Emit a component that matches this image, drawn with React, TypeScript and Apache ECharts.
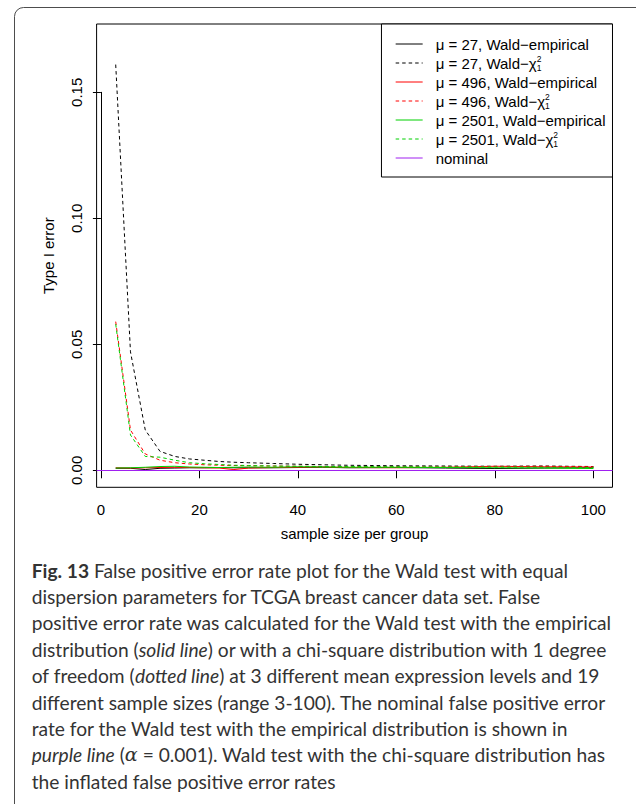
import React, { useEffect, useRef } from 'react';
import * as echarts from 'echarts';

// ---------- data ----------
const SAMPLE_SIZES = [3, 6, 9, 12, 15, 18, 21, 24, 27, 30, 35, 40, 45, 50, 60, 70, 80, 90, 100];

const MU27_EMP = [0.0008, 0.0008, 0.0003, 0.0008, 0.0009, 0.001, 0.001, 0.0011, 0.001, 0.001, 0.001, 0.0011, 0.0012, 0.001, 0.0011, 0.0009, 0.0007, 0.0009, 0.001];
const MU27_CHI = [0.161, 0.047, 0.016, 0.0075, 0.0055, 0.0045, 0.004, 0.0035, 0.0032, 0.003, 0.0027, 0.0024, 0.0022, 0.002, 0.0018, 0.0017, 0.0016, 0.0017, 0.0015];
const MU496_EMP = [0.001, 0.0009, 0.001, 0.0011, 0.0012, 0.0011, 0.001, 0.0009, 0.0003, 0.0009, 0.0011, 0.0012, 0.0013, 0.0011, 0.001, 0.0012, 0.0016, 0.0014, 0.0013];
const MU496_CHI = [0.059, 0.016, 0.0065, 0.004, 0.003, 0.0025, 0.0022, 0.002, 0.0019, 0.0018, 0.0017, 0.0016, 0.0015, 0.0014, 0.0014, 0.0013, 0.0015, 0.0016, 0.0013];
const MU2501_EMP = [0.0009, 0.001, 0.0012, 0.0015, 0.0016, 0.0013, 0.0012, 0.0011, 0.0012, 0.0013, 0.0012, 0.0014, 0.0013, 0.0012, 0.0012, 0.0011, 0.001, 0.0009, 0.0007];
const MU2501_CHI = [0.058, 0.014, 0.0055, 0.0052, 0.004, 0.003, 0.0026, 0.0023, 0.002, 0.0019, 0.0017, 0.0016, 0.0015, 0.0015, 0.0014, 0.0013, 0.0013, 0.0012, 0.0011];
const NOMINAL = 0.001;

const SERIES_NAMES = [
  'μ = 27, Wald−empirical',
  'μ = 27, Wald−χ²₁',
  'μ = 496, Wald−empirical',
  'μ = 496, Wald−χ²₁',
  'μ = 2501, Wald−empirical',
  'μ = 2501, Wald−χ²₁',
  'nominal',
];

const X_TITLE = 'sample size per group';
const Y_TITLE = 'Type I error';

const CAPTION_LINES = [
  '{b|Fig. 13} False positive error rate plot for the Wald test with equal',
  'dispersion parameters for TCGA breast cancer data set. False',
  'positive error rate was calculated for the Wald test with the empirical',
  'distribution ({i|solid line}) or with a chi-square distribution with 1 degree',
  'of freedom ({i|dotted line}) at 3 different mean expression levels and 19',
  'different sample sizes (range 3-100). The nominal false positive error',
  'rate for the Wald test with the empirical distribution is shown in',
  '{i|purple line} ({m|α} = 0.001). Wald test with the chi-square distribution has',
  'the inflated false positive error rates',
];

// ---------- styles ----------
const FONT = "'Liberation Sans', Arial, Helvetica, sans-serif";
const CAP_FONT = "Lato, 'Open Sans', sans-serif";
const CAP_FS = 19.2;
const CAP_COLOR = '#333333';
const FS = 15;
const DASH = [3.5, 3];
const BLACK = '#000000';
const RED = '#ff0000';
const GREEN = '#00d000';
const PURPLE = '#a020f0';

const zip = (ys: number[]) => SAMPLE_SIZES.map((x, i) => [x, ys[i]]);

function buildOption() {
  const lineSeries = (name: string, ys: number[], color: string, dashed: boolean) => ({
    name,
    type: 'line',
    xAxisIndex: 0,
    yAxisIndex: 0,
    data: zip(ys),
    symbol: 'none',
    showSymbol: false,
    color,
    z: 3,
    lineStyle: { color, width: 1, type: dashed ? DASH : 'solid' },
  });

  return {
    animation: false,
    backgroundColor: '#ffffff',
    grid: [
      { left: 96.6, top: 24, width: 515.9, height: 463.3, show: true, borderColor: '#000', borderWidth: 1, backgroundColor: 'transparent' },
      { left: 100.9, top: 92.3, width: 492.4, height: 378 },
    ],
    xAxis: [
      {
        gridIndex: 0, type: 'value', min: -0.88, max: 103.88,
        axisLine: { show: false }, axisTick: { show: false }, axisLabel: { show: false }, splitLine: { show: false },
        name: X_TITLE, nameLocation: 'middle', nameGap: 39,
        nameTextStyle: { fontFamily: FONT, fontSize: FS, color: '#000' },
      },
      {
        gridIndex: 1, type: 'value', min: 0, max: 100, interval: 20, position: 'bottom', offset: 17,
        axisLine: { show: true, lineStyle: { color: '#000', width: 1 } },
        axisTick: { show: true, length: 8, inside: false, lineStyle: { color: '#000', width: 1 } },
        axisLabel: { show: true, fontFamily: FONT, fontSize: FS, color: '#000', margin: 15 },
        splitLine: { show: false },
      },
    ],
    yAxis: [
      {
        gridIndex: 0, type: 'value', min: -0.006746, max: 0.1771,
        axisLine: { show: false }, axisTick: { show: false }, axisLabel: { show: false }, splitLine: { show: false },
        name: Y_TITLE, nameLocation: 'middle', nameGap: 41, nameRotate: 90,
        nameTextStyle: { fontFamily: FONT, fontSize: FS, color: '#000' },
      },
      {
        gridIndex: 1, type: 'value', min: 0, max: 0.15, interval: 0.05, position: 'left', offset: 4.3,
        axisLine: { show: true, lineStyle: { color: '#000', width: 1 } },
        axisTick: { show: true, length: 8, inside: false, lineStyle: { color: '#000', width: 1 } },
        axisLabel: { show: true, rotate: 90, fontFamily: FONT, fontSize: FS, color: '#000', margin: 13, formatter: (v: number) => v.toFixed(2) },
        splitLine: { show: false },
      },
    ],
    legend: {
      data: SERIES_NAMES,
      orient: 'vertical',
      right: 23.5,
      top: 24,
      padding: [11, 7, 10, 13.7],
      itemGap: 1,
      itemWidth: 27,
      itemHeight: 18,
      borderColor: '#000',
      borderWidth: 1,
      borderRadius: 0,
      backgroundColor: '#fff',
      selectedMode: false,
      itemStyle: { opacity: 0 },
      lineStyle: { width: 1 },
      textStyle: {
        fontFamily: FONT,
        fontSize: FS,
        color: '#000',
        lineHeight: 18,
        rich: {
          gap: { width: 8, fontSize: FS, fontFamily: FONT, lineHeight: 18 },
          sup: { fontSize: 8.5, fontFamily: FONT, color: '#000', lineHeight: 8.5, verticalAlign: 'top', width: 0.001 },
          sub: { fontSize: 8.5, fontFamily: FONT, color: '#000', lineHeight: 8.5, verticalAlign: 'bottom' },
        },
      },
      formatter: (name: string) => '{gap| }' + name.replace('χ²₁', 'χ{sup|2}{sub|1}'),
    },
    series: [
      {
        name: 'nominal',
        type: 'line',
        xAxisIndex: 0,
        yAxisIndex: 0,
        data: [],
        symbol: 'none',
        color: PURPLE,
        z: 1,
        lineStyle: { color: PURPLE, width: 1 },
        markLine: {
          silent: true,
          symbol: 'none',
          label: { show: false },
          lineStyle: { color: PURPLE, width: 1, type: 'solid' },
          data: [{ yAxis: NOMINAL }],
        },
      },
      lineSeries(SERIES_NAMES[0], MU27_EMP, BLACK, false),
      lineSeries(SERIES_NAMES[1], MU27_CHI, BLACK, true),
      lineSeries(SERIES_NAMES[2], MU496_EMP, RED, false),
      lineSeries(SERIES_NAMES[3], MU496_CHI, RED, true),
      lineSeries(SERIES_NAMES[4], MU2501_EMP, GREEN, false),
      lineSeries(SERIES_NAMES[5], MU2501_CHI, GREEN, true),
    ],
    graphic: [
      {
        type: 'rect',
        silent: true,
        shape: { x: 14.5, y: 7.5, width: 700, height: 900, r: 9 },
        style: { fill: 'none', stroke: '#4d4d4d', lineWidth: 1 },
      },
      ...CAPTION_LINES.map((t, i) => ({
        type: 'text',
        silent: true,
        x: 31.7,
        y: 570 + i * 26.4,
        style: {
          text: t,
          fontFamily: CAP_FONT,
          fontSize: CAP_FS,
          fill: CAP_COLOR,
          verticalAlign: 'middle',
          rich: {
            b: { fontFamily: CAP_FONT, fontSize: CAP_FS, fontWeight: 'bold', fill: CAP_COLOR },
            i: { fontFamily: CAP_FONT, fontSize: CAP_FS, fontStyle: 'italic', fill: CAP_COLOR },
            m: { fontFamily: "'DejaVu Serif', serif", fontSize: CAP_FS, fontStyle: 'italic', fill: CAP_COLOR },
          },
        },
      })),
    ],
  };
}

export default function App() {
  const ref = useRef<HTMLDivElement>(null);
  useEffect(() => {
    if (!ref.current) return;
    const chart = echarts.init(ref.current, null, { renderer: 'svg' });
    chart.setOption(buildOption() as any);
    return () => chart.dispose();
  }, []);
  return (
    <div
      ref={ref}
      style={{ position: 'fixed', left: 0, top: 0, width: 636, height: 804, background: '#fff' }}
    />
  );
}
